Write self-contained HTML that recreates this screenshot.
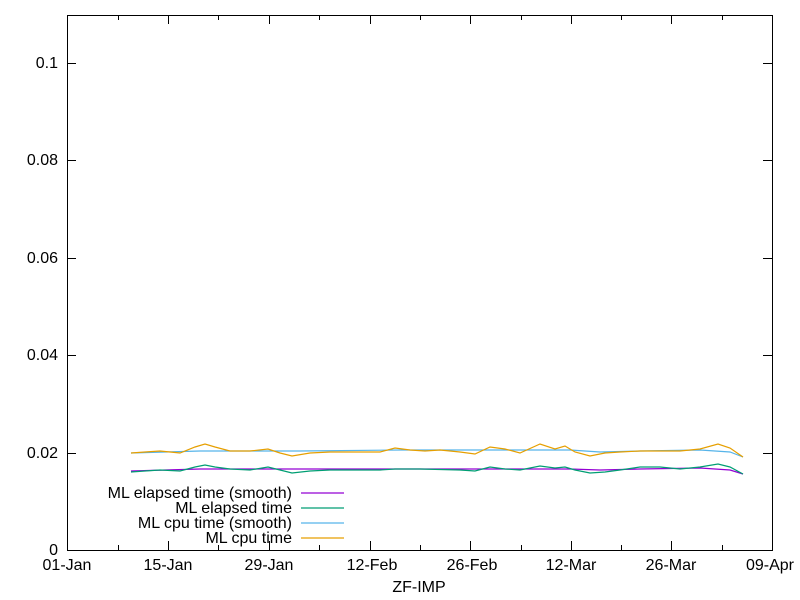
<!DOCTYPE html>
<html><head><meta charset="utf-8"><style>body{margin:0;background:#fff}svg{display:block}text{font-family:"Liberation Sans",sans-serif;font-size:16px;fill:#000}</style></head>
<body>
<svg width="800" height="600" viewBox="0 0 800 600">
<rect x="67.5" y="15.5" width="705" height="535" fill="none" stroke="#000" stroke-width="1"/>
<g stroke="#000" stroke-width="1">
<line x1="67" y1="453.5" x2="76" y2="453.5"/><line x1="763" y1="453.5" x2="772" y2="453.5"/>
<line x1="67" y1="355.5" x2="76" y2="355.5"/><line x1="763" y1="355.5" x2="772" y2="355.5"/>
<line x1="67" y1="258.5" x2="76" y2="258.5"/><line x1="763" y1="258.5" x2="772" y2="258.5"/>
<line x1="67" y1="160.5" x2="76" y2="160.5"/><line x1="763" y1="160.5" x2="772" y2="160.5"/>
<line x1="67" y1="63.5" x2="76" y2="63.5"/><line x1="763" y1="63.5" x2="772" y2="63.5"/>
<line x1="168.5" y1="550" x2="168.5" y2="541"/><line x1="168.5" y1="15" x2="168.5" y2="24"/>
<line x1="269.5" y1="550" x2="269.5" y2="541"/><line x1="269.5" y1="15" x2="269.5" y2="24"/>
<line x1="370.5" y1="550" x2="370.5" y2="541"/><line x1="370.5" y1="15" x2="370.5" y2="24"/>
<line x1="470.5" y1="550" x2="470.5" y2="541"/><line x1="470.5" y1="15" x2="470.5" y2="24"/>
<line x1="571.5" y1="550" x2="571.5" y2="541"/><line x1="571.5" y1="15" x2="571.5" y2="24"/>
<line x1="671.5" y1="550" x2="671.5" y2="541"/><line x1="671.5" y1="15" x2="671.5" y2="24"/>
<line x1="118.5" y1="550" x2="118.5" y2="545"/><line x1="118.5" y1="15" x2="118.5" y2="20"/>
<line x1="218.5" y1="550" x2="218.5" y2="545"/><line x1="218.5" y1="15" x2="218.5" y2="20"/>
<line x1="319.5" y1="550" x2="319.5" y2="545"/><line x1="319.5" y1="15" x2="319.5" y2="20"/>
<line x1="420.5" y1="550" x2="420.5" y2="545"/><line x1="420.5" y1="15" x2="420.5" y2="20"/>
<line x1="521.5" y1="550" x2="521.5" y2="545"/><line x1="521.5" y1="15" x2="521.5" y2="20"/>
<line x1="621.5" y1="550" x2="621.5" y2="545"/><line x1="621.5" y1="15" x2="621.5" y2="20"/>
<line x1="722.5" y1="550" x2="722.5" y2="545"/><line x1="722.5" y1="15" x2="722.5" y2="20"/>
</g>
<g text-anchor="end">
<text x="58" y="555">0</text><text x="58" y="458">0.02</text><text x="58" y="360">0.04</text><text x="58" y="263">0.06</text><text x="58" y="165">0.08</text><text x="58" y="68">0.1</text>
</g>
<g text-anchor="middle">
<text x="67" y="570">01-Jan</text><text x="168" y="570">15-Jan</text><text x="269" y="570">29-Jan</text><text x="372" y="570">12-Feb</text><text x="472" y="570">26-Feb</text><text x="571" y="570">12-Mar</text><text x="671" y="570">26-Mar</text><text x="770" y="570">09-Apr</text>
<text x="419" y="592">ZF-IMP</text>
</g>
<g fill="none" stroke-width="1.2">
<polyline stroke="#56b4e9" points="131,453 200,451 300,451 400,450 500,450 570,450 600,452 640,451 700,450 730,452 743,457"/>
<polyline stroke="#e69f00" points="131,453 145,452 160,451 170,452 180,453 195,447 205,444 215,447 230,451 250,451 268,449 280,453 292,456 310,453 330,452 360,452 380,452 395,448 410,450 425,451 440,450 460,452 475,454 490,447 505,449 520,453 540,444 555,449 565,446 575,452 590,456 605,453 620,452 640,451 660,451 680,451 700,449 718,444 730,448 743,457"/>
<polyline stroke="#9400d3" points="131,471 200,469 300,469 400,469 500,469 570,469 600,470 640,469 700,468 730,470 743,474"/>
<polyline stroke="#009e73" points="131,472 145,471 160,470 180,471 195,467 205,465 215,467 230,469 250,470 268,467 280,470 292,473 310,471 330,470 380,470 395,469 420,469 460,470 475,471 490,467 505,469 520,470 540,466 555,468 565,467 575,470 590,473 605,472 620,470 640,467 660,467 680,469 700,467 718,464 730,467 743,474"/>
</g>
<g text-anchor="end">
<text x="292" y="498">ML elapsed time (smooth)</text>
<text x="292" y="513">ML elapsed time</text>
<text x="292" y="528">ML cpu time (smooth)</text>
<text x="292" y="543">ML cpu time</text>
</g>
<g stroke-width="1.2">
<line x1="301" y1="493" x2="344" y2="493" stroke="#9400d3"/>
<line x1="301" y1="508" x2="344" y2="508" stroke="#009e73"/>
<line x1="301" y1="523" x2="344" y2="523" stroke="#56b4e9"/>
<line x1="301" y1="538" x2="344" y2="538" stroke="#e69f00"/>
</g>
</svg>
</body></html>
